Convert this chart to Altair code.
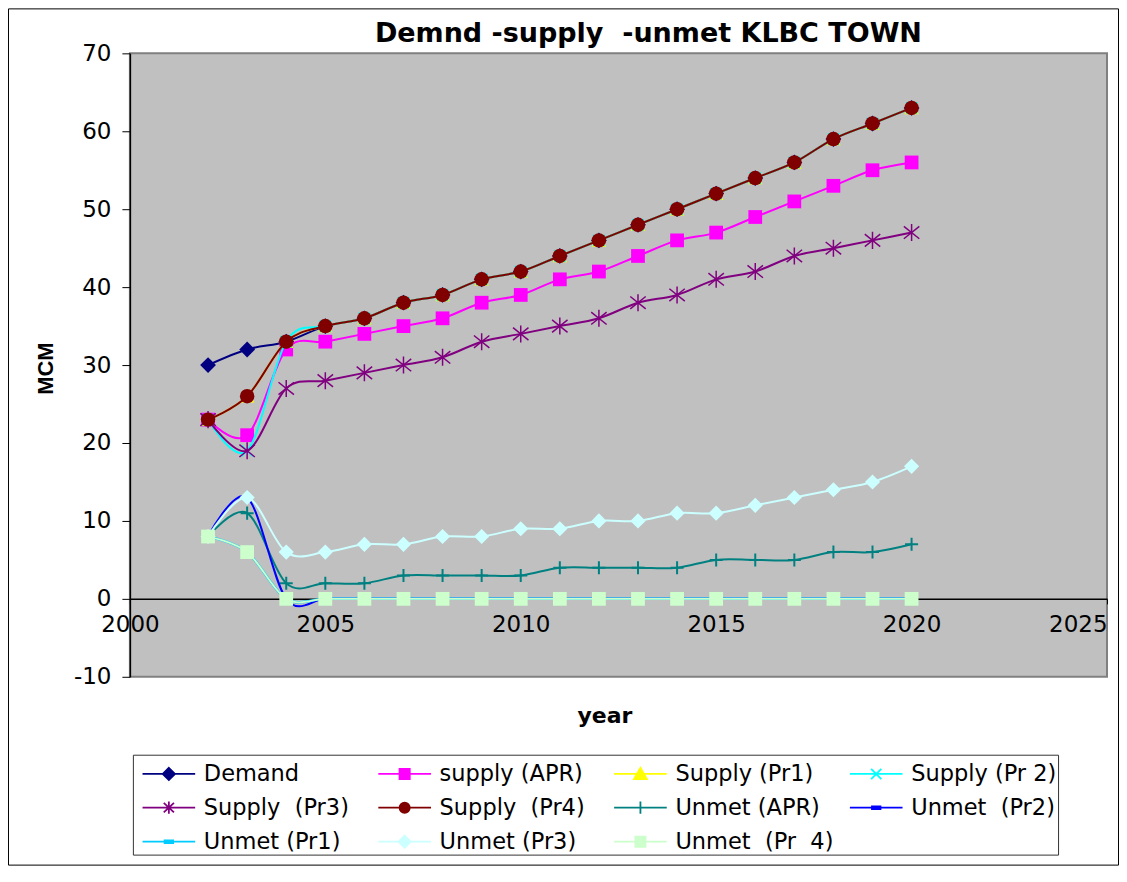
import altair as alt
import pandas as pd

# ---------------- data ----------------
years = [2002, 2003, 2004, 2005, 2006, 2007, 2008, 2009, 2010, 2011,
         2012, 2013, 2014, 2015, 2016, 2017, 2018, 2019, 2020]

series_names = [
    "Demand", "supply (APR)", "Supply (Pr1)", "Supply (Pr 2)",
    "Supply \u00a0(Pr3)", "Supply \u00a0(Pr4)", "Unmet (APR)", "Unmet \u00a0(Pr2)",
    "Unmet (Pr1)", "Unmet (Pr3)", "Unmet \u00a0(Pr \u00a04)",
]

demand     = [30, 32, 33, 35, 36, 38, 39, 41, 42, 44, 46, 48, 50, 52, 54, 56, 59, 61, 63]
supply_apr = [23, 21, 32, 33, 34, 35, 36, 38, 39, 41, 42, 44, 46, 47, 49, 51, 53, 55, 56]
supply_pr1 = [23, 26, 33, 35, 36, 38, 39, 41, 42, 44, 46, 48, 50, 52, 54, 56, 59, 61, 63]
supply_pr2 = [23, 19, 33, 35, 36, 38, 39, 41, 42, 44, 46, 48, 50, 52, 54, 56, 59, 61, 63]
supply_pr3 = [23, 19, 27, 28, 29, 30, 31, 33, 34, 35, 36, 38, 39, 41, 42, 44, 45, 46, 47]
supply_pr4 = [23, 26, 33, 35, 36, 38, 39, 41, 42, 44, 46, 48, 50, 52, 54, 56, 59, 61, 63]
unmet_apr  = [8, 11, 2, 2, 2, 3, 3, 3, 3, 4, 4, 4, 4, 5, 5, 5, 6, 6, 7]
unmet_pr2  = [8, 13, 0, 0, 0, 0, 0, 0, 0, 0, 0, 0, 0, 0, 0, 0, 0, 0, 0]
unmet_pr1  = [8, 6, 0, 0, 0, 0, 0, 0, 0, 0, 0, 0, 0, 0, 0, 0, 0, 0, 0]
unmet_pr3  = [8, 13, 6, 6, 7, 7, 8, 8, 9, 9, 10, 10, 11, 11, 12, 13, 14, 15, 17]
unmet_pr4  = [8, 6, 0, 0, 0, 0, 0, 0, 0, 0, 0, 0, 0, 0, 0, 0, 0, 0, 0]

all_values = [demand, supply_apr, supply_pr1, supply_pr2, supply_pr3, supply_pr4,
              unmet_apr, unmet_pr2, unmet_pr1, unmet_pr3, unmet_pr4]

x_ticks = [2000, 2005, 2010, 2015, 2020, 2025]
y_ticks = [-10, 0, 10, 20, 30, 40, 50, 60, 70]

# ---------------- styles ----------------
colors = ["#000080", "#FF00FF", "#FFFF00", "#00FFFF", "#800080", "#800000",
          "#008080", "#0000FF", "#00CCFF", "#CCFFFF", "#CCFFCC"]

# (shape, filled, size, strokeWidth)
plot_markers = [
    ("diamond", True, 250, 0),
    ("square", True, 190, 0),
    ("triangle-up", True, 210, 0),
    ("M-1,-1L1,1M-1,1L1,-1", False, 130, 1.5),
    ("M-1,-0.8L1,0.8M-1,0.8L1,-0.8M0,-1.1V1.1", False, 240, 1.5),
    ("circle", True, 210, 0),
    ("M-1,0H1M0,-1V1", False, 170, 2),
    ("M-1,-0.3H1V0.3H-1Z", True, 40, 0),
    ("M-1,-0.3H1V0.3H-1Z", True, 40, 0),
    ("diamond", True, 230, 0),
    ("square", True, 190, 0),
]
line_widths = [2, 2, 2, 2, 2, 2, 2, 2, 2.5, 2, 1.8]

L = "M-1.55,0H1.55"
legend_paths = [
    L + "M0,-0.36L0.36,0L0,0.36L-0.36,0Z",
    L + "M-0.3,-0.3H0.3V0.3H-0.3Z",
    L + "M0,-0.36L0.38,0.3L-0.38,0.3Z",
    L + "M-0.3,-0.3L0.3,0.3M-0.3,0.3L0.3,-0.3",
    L + "M-0.3,-0.28L0.3,0.28M-0.3,0.28L0.3,-0.28M0,-0.36V0.36",
    L + "M0.3,0A0.3,0.3 0 1,1 -0.3,0A0.3,0.3 0 1,1 0.3,0Z",
    L + "M0,-0.36V0.36",
    L + "M-0.25,-0.08H0.25V0.08H-0.25Z",
    L + "M-0.25,-0.08H0.25V0.08H-0.25Z",
    L + "M0,-0.36L0.36,0L0,0.36L-0.36,0Z",
    L + "M-0.3,-0.3H0.3V0.3H-0.3Z",
]

rows = []
for name, vals in zip(series_names, all_values):
    for yr, v in zip(years, vals):
        rows.append({"year": yr, "series": name, "value": v})
df = pd.DataFrame(rows)

x_scale = alt.Scale(domain=[2000, 2025], nice=False, zero=False)
y_scale = alt.Scale(domain=[-10, 70], nice=False, zero=False)

x_axis = alt.Axis(
    values=x_ticks, format="d", offset=-78, labelFlush=False, grid=False,
    labelAlign={"condition": {"test": "datum.value === 2025", "value": "right"}, "value": "center"},
    tickSize=5, tickColor="black", domainColor="black", domainWidth=1.5,
    labelFont="DejaVu Sans", labelFontSize=23, labelColor="black", labelPadding=10,
    title="year", titleFont="DejaVu Sans", titleFontSize=22, titleFontWeight="bold",
    titleColor="black", titleX=475, titleY=117, titleAlign="center", titleBaseline="middle",
    titleAnchor="start",
)
y_axis = alt.Axis(
    values=y_ticks, grid=False, tickSize=8, tickColor="black", domainColor="black",
    domainWidth=1.5, labelFont="DejaVu Sans", labelFontSize=23, labelColor="black",
    labelExpr="'' + datum.value",
    labelPadding=11, title="MCM", titleFont="Liberation Sans", titleFontSize=22,
    titleFontWeight="bold", titleColor="black", titleX=-84, titleY=315, titleAngle=270,
    titleAlign="center", titleBaseline="middle", titleAnchor="start",
)

x_enc = alt.X("year:Q", scale=x_scale, axis=x_axis)
y_enc = alt.Y("value:Q", scale=y_scale, axis=y_axis)

base = alt.Chart(df)
layers = []
for i, name in enumerate(series_names):
    sub = base.transform_filter(alt.datum.series == name)
    line = sub.mark_line(interpolate="cardinal", color=colors[i],
                         strokeWidth=line_widths[i]).encode(x=x_enc, y=y_enc)
    shp, filled, size, sw = plot_markers[i]
    if filled:
        pts = sub.mark_point(shape=shp, filled=True, fill=colors[i], size=size,
                             opacity=1, strokeWidth=0)
    else:
        pts = sub.mark_point(shape=shp, filled=False, stroke=colors[i], size=size,
                             opacity=1, strokeWidth=sw)
    layers.append(line)
    layers.append(pts.encode(x=x_enc, y=y_enc))

legend_obj = alt.Legend(
    title=None, orient="none", legendX=3, legendY=702, columns=4, direction="horizontal",
    gridAlign="all", columnPadding=7, rowPadding=4, padding=1, strokeColor="#333333",
    fillColor="white", symbolSize=1156, symbolStrokeWidth=1.8, symbolOffset=17,
    labelOffset=17, labelFont="DejaVu Sans", labelFontSize=22.5, labelColor="black",
    labelLimit=400,
)
legend_layer = base.transform_filter("false").mark_point(
    filled=True, opacity=1, size=1156
).encode(
    x=x_enc, y=y_enc,
    color=alt.Color("series:N", scale=alt.Scale(domain=series_names, range=colors),
                    legend=legend_obj),
    stroke=alt.Stroke("series:N", scale=alt.Scale(domain=series_names, range=colors),
                      legend=legend_obj),
    shape=alt.Shape("series:N", scale=alt.Scale(domain=series_names, range=legend_paths),
                    legend=legend_obj),
)

frame = alt.Chart(pd.DataFrame({"k": [0]})).mark_rect(
    filled=False, stroke="black", strokeWidth=1
).encode(x=alt.value(-121.5), x2=alt.value(989.5), y=alt.value(-44.5), y2=alt.value(812.5))

chart = alt.layer(frame, legend_layer, *layers).properties(
    width=978, height=624,
    background="white",
    title=alt.TitleParams(
        text="Demnd -supply \u00a0-unmet KLBC TOWN", font="DejaVu Sans", fontSize=27,
        fontWeight="bold", color="black", anchor="middle", frame="group", dx=30, dy=74,
        baseline="alphabetic", offset=13,
    ),
    autosize=alt.AutoSizeParams(type="none"),
    padding={"left": 122, "top": 45, "right": 12, "bottom": 190},
).configure_view(
    fill="#C0C0C0", stroke="#808080", strokeWidth=2
)

chart.save("out.html", embed_options={"renderer": "svg", "actions": False})
